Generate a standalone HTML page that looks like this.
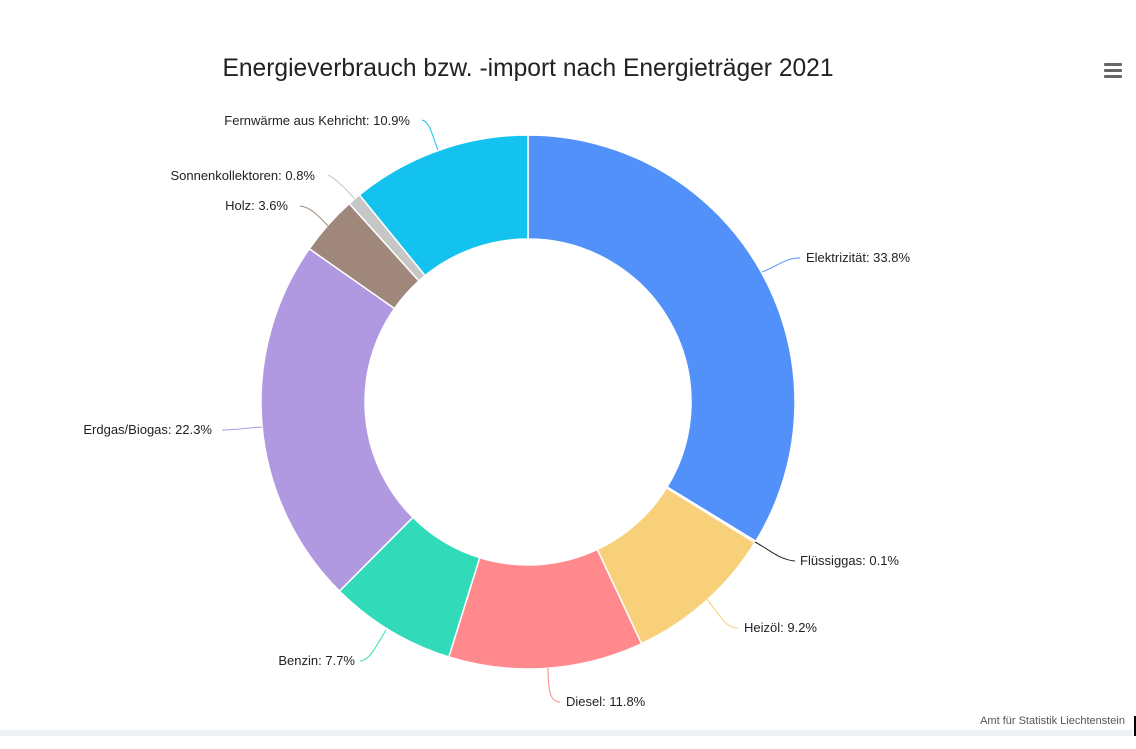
<!DOCTYPE html>
<html><head><meta charset="utf-8"><style>
html,body{margin:0;padding:0;background:#fff;}
body{width:1136px;height:749px;overflow:hidden;position:relative;font-family:"Liberation Sans","DejaVu Sans",sans-serif;}
</style></head><body>
<svg width="1136" height="749" viewBox="0 0 1136 749" xmlns="http://www.w3.org/2000/svg" style="position:absolute;left:0;top:0">
<text x="528" y="76" text-anchor="middle" font-size="24.6" fill="#222">Energieverbrauch bzw. -import nach Energieträger 2021</text>
<g fill="#666"><rect x="1104" y="63" width="18" height="3" rx="1"/><rect x="1104" y="69" width="18" height="3" rx="1"/><rect x="1104" y="75" width="18" height="3" rx="1"/></g>
<g stroke="#fff" stroke-width="1.5" stroke-linejoin="round">
<path d="M528,135 A267,267 0 0 1 755.8,541.3 L667.1,487 A163,163 0 0 0 528,239 Z" fill="#5291f9"/>
<path d="M755.8,541.3 A267,267 0 0 1 754.9,542.7 L666.5,487.9 A163,163 0 0 0 667.1,487 Z" fill="#222"/>
<path d="M754.9,542.7 A267,267 0 0 1 641.5,643.7 L597.3,549.5 A163,163 0 0 0 666.5,487.9 Z" fill="#f8d07a"/>
<path d="M641.5,643.7 A267,267 0 0 1 448.8,657 L479.7,557.7 A163,163 0 0 0 597.3,549.5 Z" fill="#ff898c"/>
<path d="M448.8,657 A267,267 0 0 1 339.5,591.1 L412.9,517.4 A163,163 0 0 0 479.7,557.7 Z" fill="#31dbb9"/>
<path d="M339.5,591.1 A267,267 0 0 1 309.3,248.8 L394.5,308.5 A163,163 0 0 0 412.9,517.4 Z" fill="#b099e1"/>
<path d="M309.3,248.8 A267,267 0 0 1 349.3,203.6 L418.9,280.9 A163,163 0 0 0 394.5,308.5 Z" fill="#a0877c"/>
<path d="M349.3,203.6 A267,267 0 0 1 359.4,194.9 L425.1,275.6 A163,163 0 0 0 418.9,280.9 Z" fill="#c6c6c6"/>
<path d="M359.4,194.9 A267,267 0 0 1 528,135 L528,239 A163,163 0 0 0 425.1,275.6 Z" fill="#14c2ef"/>
</g>
<g fill="none" stroke-width="1">
<path d="M762,272 C780,265 785,258 800,258" stroke="#5291f9"/>
<path d="M755,542 C770,550 780,560 795,561" stroke="#222"/>
<path d="M706,598 C720,615 725,628 738,628" stroke="#f8d07a"/>
<path d="M548,668 C548,690 550,702 560,702" stroke="#ff898c"/>
<path d="M386,630 C375,648 370,660 360,661" stroke="#31dbb9"/>
<path d="M262,427 C245,428 235,430 222,430" stroke="#b099e1"/>
<path d="M328,226 C318,215 310,207 300,206" stroke="#a0877c"/>
<path d="M355,199 C345,188 335,178 328,175" stroke="#c6c6c6"/>
<path d="M438,150 C432,135 430,122 422,120" stroke="#14c2ef"/>
</g>
<g font-size="13" fill="#222">
<text x="806" y="262">Elektrizität: 33.8%</text>
<text x="800" y="565">Flüssiggas: 0.1%</text>
<text x="744" y="632">Heizöl: 9.2%</text>
<text x="566" y="706">Diesel: 11.8%</text>
<text x="355" y="665" text-anchor="end">Benzin: 7.7%</text>
<text x="212" y="434" text-anchor="end">Erdgas/Biogas: 22.3%</text>
<text x="288" y="210" text-anchor="end">Holz: 3.6%</text>
<text x="315" y="180" text-anchor="end">Sonnenkollektoren: 0.8%</text>
<text x="410" y="125" text-anchor="end">Fernwärme aus Kehricht: 10.9%</text>
</g>
<text x="1125" y="724" text-anchor="end" font-size="11" fill="#555">Amt für Statistik Liechtenstein</text>
<rect x="0" y="730" width="1133" height="6" fill="#edf1f5"/>
<rect x="1134" y="716" width="2" height="20" fill="#000"/>
</svg>
</body></html>
